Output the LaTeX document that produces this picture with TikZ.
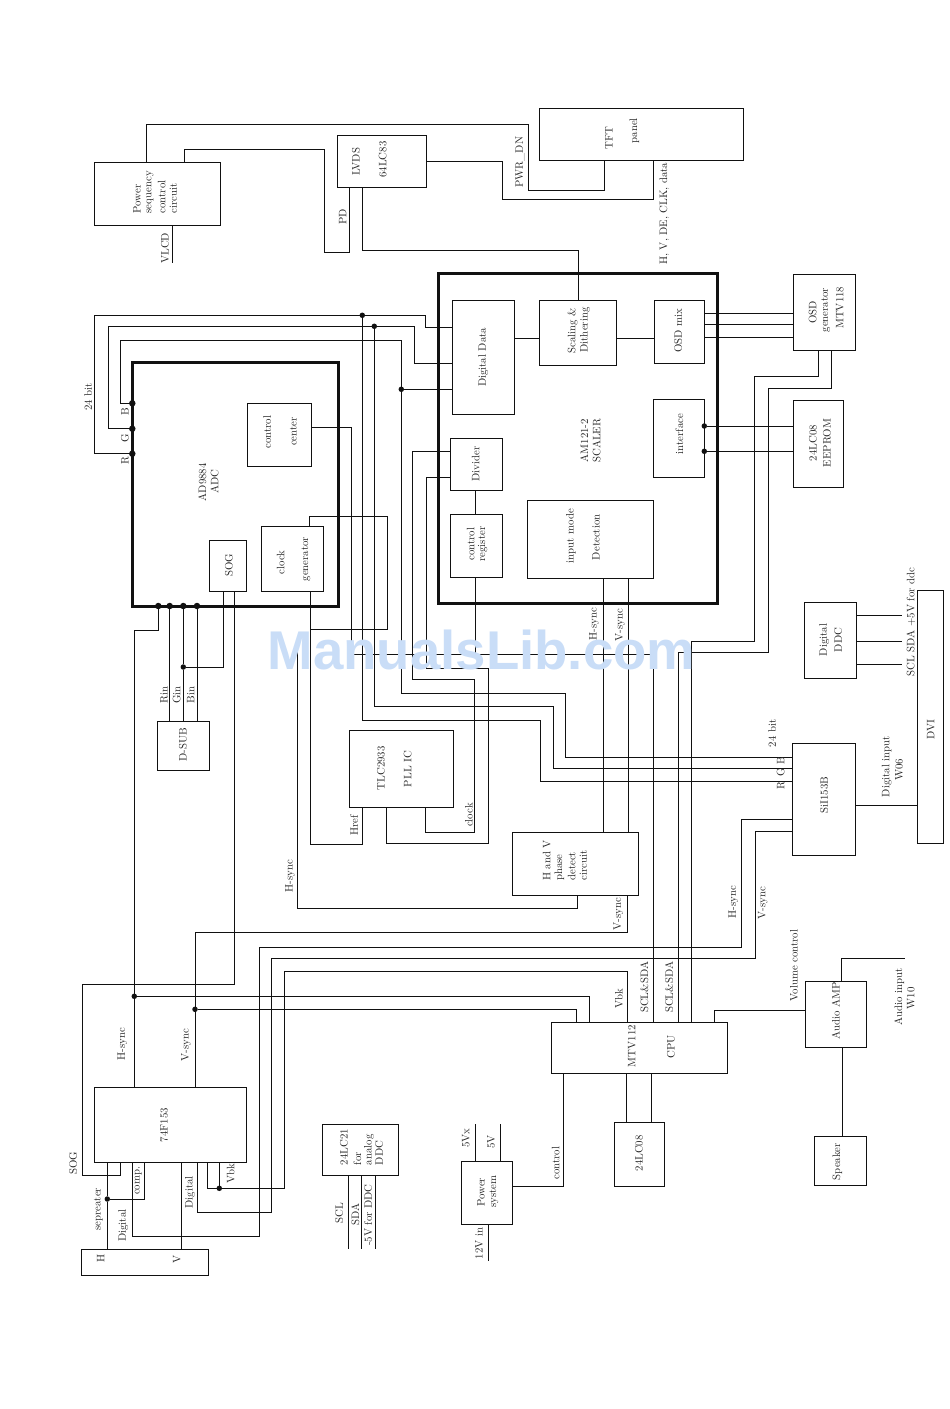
\documentclass[tikz,border=0pt]{standalone}
\usepackage{fontspec}
\newfontfamily\wmfont{Liberation Sans}[BoldFont={Liberation Sans Bold}]
\newcounter{lbc}
\definecolor{ink}{HTML}{111111}
\definecolor{wm}{HTML}{C9DDF7}
\tikzset{
  boxn/.style={draw=ink,line width=1pt,inner sep=0pt,outer sep=0pt},
  thickbox/.style={draw=ink,line width=3pt,inner sep=0pt,outer sep=0pt},
  wire/.style={draw=ink,line width=1pt,line join=miter},
  lbl/.style={rotate=90,inner sep=0pt,outer sep=0pt,text=ink!92,font=\fontsize{10.8}{12}\selectfont},
  dotn/.style={circle,fill=ink,inner sep=0pt,outer sep=0pt,minimum size=6.5pt},
  dots/.style={circle,fill=ink,inner sep=0pt,outer sep=0pt,minimum size=5.5pt}
}
\newcommand\bx[6][boxn]{%
  \pgfmathsetmacro\rkw{#5-#3}\pgfmathsetmacro\rkh{#6-#4}%
  \node[#1,minimum width=\rkw pt,minimum height=\rkh pt] (#2) at ({(#3+#5)/2},{(#4+#6)/2}) {};}
\newcommand\lb[3]{\stepcounter{lbc}\node[lbl] (lb\arabic{lbc}) at (#1,#2) {#3};}
\newcommand\lw[3]{\stepcounter{lbc}\node[lbl,anchor=west] (lb\arabic{lbc}) at (#1,#2) {#3};}
\begin{document}
\begin{tikzpicture}[x=1pt,y=-1pt]
\useasboundingbox (0,0) rectangle (950,1409);
% boxes
\bx[thickbox]{scaler}{438.7}{273.3}{717.3}{603}
\bx[thickbox]{adc}{132.3}{362.3}{338.7}{606.3}
\bx{pwr}{94.3}{162.3}{220.3}{225.3}
\bx{lvds}{337.3}{135.3}{426.3}{187.3}
\bx{tft}{539.3}{108.3}{743.3}{160.3}
\bx{dd}{452.3}{300.3}{514.7}{414.3}
\bx{scal}{539.3}{300.3}{616.7}{365.3}
\bx{omix}{654.3}{300.3}{704.7}{363.3}
\bx{osd}{793.3}{274.3}{855.3}{350.3}
\bx{ifc}{653.3}{399.3}{704.3}{477.3}
\bx{eeprom}{793.3}{400.3}{843.3}{487.3}
\bx{div}{450.3}{438.3}{502.3}{490.3}
\bx{creg}{450.3}{514.3}{502.3}{577.3}
\bx{det}{527.3}{500}{653.3}{578.3}
\bx{cc}{247.3}{403.3}{311.3}{466.3}
\bx{sog}{209.3}{540.3}{246.7}{591.3}
\bx{clk}{261.3}{526.3}{323.3}{591.3}
\bx{dsub}{157.3}{721.7}{209.7}{770.3}
\bx{pll}{349.3}{730.3}{453.3}{807.3}
\bx{hvd}{512.3}{832.3}{638.7}{895.7}
\bx{sii}{792.3}{743.3}{855.3}{855.3}
\bx{ddc}{804.3}{602.3}{856.3}{678.3}
\bx{dvi}{917.3}{590.7}{943.7}{843.3}
\bx{fts}{94.3}{1087.3}{246.3}{1162.3}
\bx{hvc}{81.3}{1249.3}{208.3}{1275.3}
\bx{lca}{322.3}{1124.3}{398.7}{1175.3}
\bx{psu}{461.3}{1161.3}{512.3}{1224.3}
\bx{cpu}{551.3}{1022.3}{727.3}{1073.3}
\bx{eep}{614.3}{1122.3}{664.3}{1186.3}
\bx{amp}{805.3}{981.3}{866.3}{1047.3}
\bx{spk}{814.3}{1136.3}{866.3}{1185.3}
% dots
\node[dotn] (dR) at (132.3,453.7) {};
\node[dotn] (dG) at (132.3,428.7) {};
\node[dotn] (dB) at (132.3,403.3) {};
\node[dots] (dA) at (362.3,315.3) {};
\node[dots] (dC) at (374.3,326.3) {};
\node[dots] (dBt) at (401.3,389.3) {};
\node[dotn] (dS0) at (158.3,606) {};
\node[dotn] (dS1) at (169.7,606) {};
\node[dotn] (dS2) at (183.3,606) {};
\node[dotn] (dS3) at (197,606) {};
\node[dots] (dGin) at (183.3,667) {};
\node[dots] (dIa) at (704.3,426) {};
\node[dots] (dIb) at (704.3,451.3) {};
\node[dots] (dH) at (134.3,996.3) {};
\node[dots] (dV) at (195,1009.3) {};
\node[dots] (dSep) at (107.3,1199) {};
\node[dots] (dVb) at (219.3,1188.3) {};
% free ends
\coordinate (vlcdEnd) at (172.3,263.3);
\coordinate (hsyncEnd) at (297.3,652);
\coordinate (ddcA) at (902.3,615.3);
\coordinate (ddcB) at (902.3,641.3);
\coordinate (ddcC) at (902.3,664.3);
\coordinate (sclEnd) at (348.3,1249);
\coordinate (sdaEnd) at (361.3,1249);
\coordinate (vddEnd) at (375.3,1249);
\coordinate (vxEnd) at (475.3,1124);
\coordinate (vEnd) at (500.3,1124);
\coordinate (inEnd) at (488.3,1261);
\coordinate (audioEnd) at (905,958.3);
% wires
\draw[wire] (146.3,0 |- pwr.north) |- (528.3,124.3) |- (604.3,190) -- (604.3,0 |- tft.south);
\draw[wire] (184.3,0 |- pwr.north) |- (324.3,149.3) |- (349.3,252.3) -- (349.3,0 |- lvds.south);
\draw[wire] (172.3,0 |- pwr.south) -- (vlcdEnd);
\draw[wire] (lvds.east |- 0,161.3) -| (502.3,199.3) -- (653.7,199.3) -- (653.7,0 |- tft.south);
\draw[wire] (362.3,0 |- lvds.south) |- (578.3,250.3) -- (578.3,0 |- scal.north);
\draw[wire] (dd.east |- 0,338.3) -- (scal.west |- 0,338.3);
\draw[wire] (scal.east |- 0,338.3) -- (omix.west |- 0,338.3);
\draw[wire] (omix.east |- 0,313.3) -- (osd.west |- 0,313.3);
\draw[wire] (omix.east |- 0,324.3) -- (osd.west |- 0,324.3);
\draw[wire] (omix.east |- 0,337.3) -- (osd.west |- 0,337.3);
\draw[wire] (dIa) -- (eeprom.west |- dIa);
\draw[wire] (dIb) -- (eeprom.west |- dIb);
% RGB
\draw[wire] (dR) -| (94.3,315.3) -| (425.3,327.3) -- (dd.west |- 0,327.3);
\draw[wire] (dG) -| (108.3,326.3) -| (414.3,363.3) -- (dd.west |- 0,363.3);
\draw[wire] (dB) -| (120.3,340.3) -| (dBt);
\draw[wire] (dBt) -- (dd.west |- dBt);
\draw[wire] (dBt) |- (565.3,693.3) |- (sii.west |- 0,757.3);
\draw[wire] (dA) |- (540.3,720.7) |- (sii.west |- 0,781.3);
\draw[wire] (dC) |- (553.7,706) |- (sii.west |- 0,768.5);
% control bus
\draw[wire] (cc.east |- 0,427.3) -| (351.3,654.3) -| (653.3,0 |- cpu.north);
\draw[wire] (475.3,0 |- div.south) -- (475.3,0 |- creg.north);
\draw[wire] (475.3,0 |- creg.south) -- (475.3,654.3);
\draw[wire] (div.west |- 0,451.3) -| (412.3,679.3) -| (474.7,832.3) -| (425.3,0 |- pll.south);
\draw[wire] (div.west |- 0,477.3) -| (426.5,668.3) -| (488.3,843.3) -| (386.3,0 |- pll.south);
\draw[wire] (309.5,0 |- clk.north) |- (387.3,516.3) |- (310.3,629.3);
\draw[wire] (310.3,0 |- clk.south) |- (362.3,844.3) -- (362.3,0 |- pll.south);
% SOG and ADC
\draw[wire] (223.7,0 |- sog.south) |- (dGin);
\draw[wire] (234.3,0 |- sog.south) |- (82.3,984.3) |- (120.7,1175.3) -- (120.7,0 |- fts.south);
\draw[wire] (dS0) |- (134.3,630.3) -- (dH);
\draw[wire] (dH) -- (134.3,0 |- fts.north);
\draw[wire] (dH) -| (589.3,0 |- cpu.north);
\draw[wire] (dV) -| (576.3,0 |- cpu.north);
\draw[wire] (dS1) -- (169.7,0 |- dsub.north);
\draw[wire] (dS2) -- (dGin) -- (183.3,0 |- dsub.north);
\draw[wire] (dS3) -- (197,0 |- dsub.north);
\draw[wire] (195,0 |- fts.north) -- (dV);
\draw[wire] (dV) |- (627.7,932.7) -- (627.7,0 |- hvd.south);
\draw[wire] (577.3,0 |- hvd.south) |- (297.3,908.3) -- (hsyncEnd);
\draw[wire] (603.3,0 |- det.south) -- (603.3,0 |- hvd.north);
\draw[wire] (628.3,0 |- det.south) -- (628.3,0 |- hvd.north);
% OSD to CPU
\draw[wire] (818.3,0 |- osd.south) |- (754.3,376.3) |- (691.5,641) -- (691.5,0 |- cpu.north);
\draw[wire] (831.3,0 |- osd.south) |- (768.3,388.3) |- (678.3,652.3) -- (678.3,0 |- cpu.north);
% DVI side
\draw[wire] (ddc.east |- ddcA) -- (ddcA);
\draw[wire] (ddc.east |- ddcB) -- (ddcB);
\draw[wire] (ddc.east |- ddcC) -- (ddcC);
\draw[wire] (sii.east |- 0,805) -- (dvi.west |- 0,805);
\draw[wire] (sii.west |- 0,819) -| (741.3,947.3) -| (259.3,1236.3) -| (132.3,0 |- fts.south);
\draw[wire] (sii.west |- 0,831.3) -| (755.3,958.3) -| (271.3,1212.3) -| (197.3,0 |- fts.south);
% bottom
\draw[wire] (627.3,0 |- cpu.north) |- (284.3,971.3) |- (207.3,1188.3) -- (207.3,0 |- fts.south);
\draw[wire] (dVb) -- (219.3,0 |- fts.south);
\draw[wire] (107.3,0 |- fts.south) -- (dSep) -- (107.3,0 |- hvc.north);
\draw[wire] (dSep) -| (144.3,0 |- fts.south);
\draw[wire] (181.3,0 |- fts.south) -- (181.3,0 |- hvc.north);
\draw[wire] (348.3,0 |- lca.south) -- (sclEnd);
\draw[wire] (361.3,0 |- lca.south) -- (sdaEnd);
\draw[wire] (375.3,0 |- lca.south) -- (vddEnd);
\draw[wire] (475.3,0 |- psu.north) -- (vxEnd);
\draw[wire] (500.3,0 |- psu.north) -- (vEnd);
\draw[wire] (488.3,0 |- psu.south) -- (inEnd);
\draw[wire] (psu.east |- 0,1186) -| (563.3,0 |- cpu.south);
\draw[wire] (626.3,0 |- cpu.south) -- (626.3,0 |- eep.north);
\draw[wire] (651.3,0 |- cpu.south) -- (651.3,0 |- eep.north);
\draw[wire] (amp.west |- 0,1010.3) -| (714.3,0 |- cpu.north);
\draw[wire] (841.3,0 |- amp.north) |- (audioEnd);
\draw[wire] (842.3,0 |- amp.south) -- (842.3,0 |- spk.north);
% labels
\lw{137}{213.3}{Power}\lw{150}{213.3}{sequency}\lw{161.7}{213.3}{control}\lw{173.3}{213.3}{circuit}
\lb{356}{161.7}{LVDS}\lb{382.7}{159.5}{64LC83}
\lb{342.7}{216.7}{PD}\lb{165}{248.3}{VLCD}
\lb{483.3}{357.3}{Digital Data}
\lb{88.3}{396.7}{24 bit}\lb{125}{411.7}{B}\lb{125}{438.3}{G}\lb{125}{461}{R}
\lb{609}{137.7}{TFT}\lb{634.3}{130.7}{panel}
\lb{520}{162.3}{PWR\_DN}\lb{664.3}{213.7}{H, V, DE, CLK, data}
\lb{572.7}{330.7}{Scaling \&}\lb{585}{330}{Dithering}
\lb{678.3}{330.7}{OSD mix}
\lb{812.7}{312.3}{OSD}\lb{825.7}{310}{generator}\lb{839.7}{307.7}{MTV118}
\lb{813}{443}{24LC08}\lb{827}{443}{EEPROM}
\lb{679.3}{434}{interface}
\lb{584.3}{440.7}{AM121-2}\lb{596.7}{440.7}{SCALER}
\lb{475.7}{464}{Divider}
\lb{470.7}{544}{control}\lb{482.7}{544}{register}
\lb{571}{536}{input mode}\lb{596}{537.3}{Detection}
\lb{594}{624}{H-sync}\lb{620}{625}{V-sync}
\lb{267.3}{432.3}{control}\lb{293.3}{431.7}{center}
\lb{202.3}{482.3}{AD9884}\lb{214.7}{481.7}{ADC}
\lb{229}{565}{SOG}
\lb{280.7}{562.3}{clock}\lb{306}{559}{generator}
\lb{164}{695}{Rin}\lb{176.7}{695}{Gin}\lb{190.7}{695}{Bin}
\lb{183}{745}{D-SUB}
\lb{381}{768.3}{TLC2933}\lb{407.7}{769}{PLL IC}
\lb{469}{815}{clock}\lb{354}{825.7}{Href}
\lb{290}{876}{H-sync}\lb{618.3}{914}{V-sync}
\lw{546.7}{880.7}{H and V}\lw{559.3}{880.7}{phase}\lw{571.7}{880.7}{detect}\lw{583.3}{880.7}{circuit}
\lb{772.3}{733.3}{24 bit}\lb{780.7}{760.7}{B}\lb{780.7}{772.3}{G}\lb{780.7}{786}{R}
\lb{824.3}{795}{SiI153B}
\lb{886.7}{766.7}{Digital input}\lb{899}{770}{W06}
\lb{824.3}{640}{Digital}\lb{838.3}{640}{DDC}
\lb{911}{622}{SCL SDA +5V for ddc}
\lb{930.7}{729.3}{DVI}
\lb{122.3}{1044}{H-sync}\lb{186}{1045}{V-sync}
\lb{164}{1125}{74F153}
\lb{73.3}{1163.3}{SOG}
\lb{98.3}{1209.3}{sepreater}
\lb{123.3}{1225.7}{Digital}\lb{138.3}{1180.7}{comp.}\lb{190}{1192.3}{Digital}
\lb{230.7}{1173.3}{Vbk}
\lb{100.7}{1258.3}{H}\lb{176.7}{1259.3}{V}
\lw{344}{1165}{24LC21}\lw{357.3}{1165}{for}\lw{369}{1165}{analog}\lw{379.3}{1165}{DDC}
\lb{339.3}{1213.3}{SCL}\lb{355.3}{1214}{SDA}\lb{368.3}{1215}{-5V for DDC}
\lb{465.7}{1138.3}{5Vx}\lb{491}{1141.7}{5V}
\lb{481}{1192.3}{Power}\lb{494}{1191.7}{system}
\lb{479}{1243.3}{12V in}\lb{555.7}{1163.3}{control}
\lb{619}{998.3}{Vbk}\lb{631.7}{1046}{MTV112}
\lb{644.3}{987.3}{SCL\&SDA}\lb{669}{987.3}{SCL\&SDA}
\lb{671}{1046.7}{CPU}
\lb{733.3}{902.3}{H-sync}\lb{762.7}{903.3}{V-sync}
\lb{794}{965.7}{Volume control}
\lb{835.7}{1010}{Audio AMP.}
\lb{899.3}{996.7}{Audio input}\lb{910.7}{998.3}{W10}
\lb{639}{1153.3}{24LC08}\lb{837.3}{1161.7}{Speaker}
% watermark
\node[inner sep=0pt,text=wm,font=\wmfont\bfseries\fontsize{54.6}{60}\selectfont] (wmark) at (481.5,650) {ManualsLib.com};
\end{tikzpicture}
\end{document}
